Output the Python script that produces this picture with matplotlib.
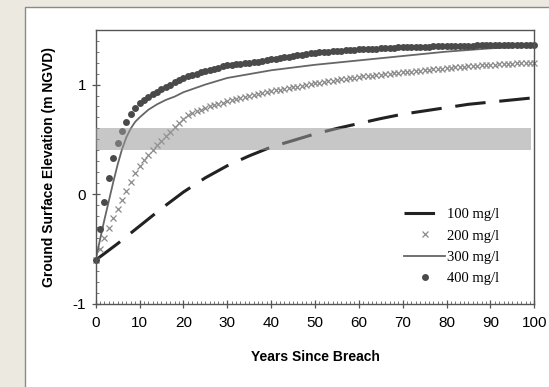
import matplotlib.pyplot as plt
import numpy as np
from matplotlib.patches import Rectangle
from matplotlib.ticker import MultipleLocator

plt.rcParams['axes.unicode_minus'] = False

# years since breach, yearly for the marker series
years = list(range(0, 101))

# 200 mg/l (x markers, one per year)
elev_200 = [-0.60, -0.50, -0.40, -0.31, -0.22, -0.13, -0.05, 0.03, 0.11, 0.19,
            0.26, 0.31, 0.36, 0.40, 0.45, 0.49, 0.53, 0.57, 0.61, 0.65,
            0.69, 0.72, 0.74, 0.755, 0.77, 0.785, 0.80, 0.81, 0.825, 0.835,
            0.85, 0.859, 0.868, 0.877, 0.886, 0.895, 0.904, 0.913, 0.922, 0.931,
            0.94, 0.947, 0.954, 0.961, 0.968, 0.975, 0.982, 0.989, 0.996, 1.003,
            1.01, 1.016, 1.022, 1.028, 1.034, 1.04, 1.046, 1.052, 1.058, 1.064,
            1.07, 1.074, 1.078, 1.082, 1.086, 1.09, 1.094, 1.098, 1.102, 1.106,
            1.11, 1.114, 1.118, 1.122, 1.126, 1.13, 1.134, 1.138, 1.142, 1.146,
            1.15, 1.153, 1.156, 1.159, 1.162, 1.165, 1.168, 1.171, 1.174, 1.177,
            1.18, 1.182, 1.184, 1.186, 1.188, 1.19, 1.192, 1.194, 1.196, 1.198,
            1.20]

# 400 mg/l (dots, one per year)
elev_400 = [-0.60, -0.32, -0.07, 0.15, 0.33, 0.47, 0.58, 0.66, 0.73, 0.79,
            0.83, 0.86, 0.89, 0.915, 0.935, 0.955, 0.975, 0.995, 1.02, 1.04,
            1.06, 1.075, 1.09, 1.10, 1.11, 1.12, 1.135, 1.145, 1.155, 1.165,
            1.175, 1.18, 1.185, 1.19, 1.195, 1.20, 1.205, 1.21, 1.215, 1.22,
            1.23, 1.236, 1.242, 1.248, 1.254, 1.26, 1.266, 1.272, 1.278, 1.284,
            1.29, 1.293, 1.296, 1.299, 1.302, 1.305, 1.308, 1.311, 1.314, 1.317,
            1.32, 1.322, 1.324, 1.326, 1.328, 1.33, 1.332, 1.334, 1.336, 1.338,
            1.34, 1.341, 1.342, 1.343, 1.344, 1.345, 1.346, 1.347, 1.348, 1.349,
            1.35, 1.351, 1.352, 1.353, 1.354, 1.355, 1.355, 1.356, 1.356, 1.357,
            1.357, 1.357, 1.358, 1.358, 1.358, 1.359, 1.359, 1.359, 1.36, 1.36,
            1.36]

# 300 mg/l (solid line)
years_300 = [0, 1, 2, 3, 4, 5, 6, 7, 8, 9, 10, 12, 14, 16, 18, 20, 25, 30, 40, 50, 60, 70, 80, 90, 100]
elev_300 = [-0.60, -0.41, -0.23, -0.06, 0.11, 0.27, 0.41, 0.52, 0.60, 0.66, 0.70, 0.77, 0.82, 0.86,
            0.89, 0.93, 1.00, 1.06, 1.13, 1.18, 1.22, 1.26, 1.30, 1.33, 1.35]

# 100 mg/l (dashed line)
years_100 = [0, 5, 10, 15, 20, 25, 30, 35, 40, 45, 50, 55, 60, 65, 70, 75, 80, 85, 90, 95, 100]
elev_100 = [-0.60, -0.45, -0.29, -0.13, 0.02, 0.15, 0.26, 0.35, 0.43, 0.49, 0.55, 0.60, 0.645,
            0.69, 0.73, 0.76, 0.79, 0.82, 0.84, 0.86, 0.88]

# shaded elevation band
band_low, band_high = 0.4, 0.6
band_x = [0, 99.2]

fig = plt.figure(figsize=(5.49, 3.87), dpi=100, facecolor='#ECE9E0')
# white page behind the plot
page = Rectangle((25 / 549, -0.1), 1.2, 1.1 - 7.5 / 387, transform=fig.transFigure,
                 facecolor='white', edgecolor='#8a8a8a', lw=1.0, zorder=-10)
fig.patches.append(page)

ax = fig.add_axes([0.1743, 0.2145, 0.7989, 0.7088])
ax.set_zorder(1)
ax.set_facecolor('white')

ln100, = ax.plot(years_100, elev_100, color='#222222', lw=2.2, dashes=(10, 4.5), zorder=2,
                 label='100 mg/l')
ln200, = ax.plot(years, elev_200, ls='none', marker='x', ms=4.2, mew=0.9, color='#8a8a8a',
                 zorder=2, clip_on=False, label='200 mg/l')
ln300, = ax.plot(years_300, elev_300, color='#666666', lw=1.3, zorder=2, label='300 mg/l')
ln400, = ax.plot(years, elev_400, ls='none', marker='o', ms=5.0, color='#4a4a4a', mew=0,
                 zorder=2, clip_on=False, label='400 mg/l')

ax.fill_between(band_x, band_low, band_high, color='#999999', alpha=0.55, lw=0, zorder=3)

ax.set_xlim(0, 100)
ax.set_ylim(-1, 1.5)
ax.xaxis.set_major_locator(MultipleLocator(10))
ax.xaxis.set_minor_locator(MultipleLocator(1))
ax.yaxis.set_major_locator(MultipleLocator(1))
ax.yaxis.set_minor_locator(MultipleLocator(0.1))
ax.tick_params(which='major', direction='inout', length=6, width=0.9, color='#555555',
               labelsize=11, labelcolor='black')
ax.tick_params(which='minor', direction='in', length=2.5, width=0.7, color='#777777')
ax.tick_params(axis='x', pad=6)
ax.tick_params(axis='y', pad=4)
for s in ax.spines.values():
    s.set_color('#555555')
    s.set_linewidth(1.0)

for lab in ax.get_xticklabels() + ax.get_yticklabels():
    lab.set_family('Liberation Sans')

ax.set_xlabel('Years Since Breach', fontsize=10, fontweight='bold', family='Liberation Sans',
              labelpad=14)
ax.set_ylabel('Ground Surface Elevation (m NGVD)', fontsize=10, fontweight='bold',
              family='Liberation Sans', labelpad=12)

ax.legend(handles=[ln100, ln200, ln300, ln400], loc='upper left', bbox_to_anchor=(0.704, 0.349),
          frameon=False, prop={'family': 'Liberation Serif', 'size': 10.5},
          handlelength=2.8, handletextpad=0.15, labelspacing=0.54, borderpad=0, borderaxespad=0)

plt.savefig('out.png', dpi=100, facecolor=fig.get_facecolor())
